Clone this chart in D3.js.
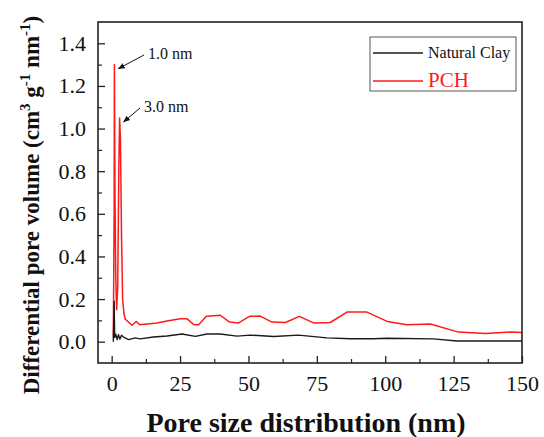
<!DOCTYPE html>
<html>
<head>
<meta charset="utf-8">
<script src="https://cdn.jsdelivr.net/npm/d3@7/dist/d3.min.js"></script>
<style>
  html, body { margin: 0; padding: 0; background: #fff; }
  svg { display: block; }
</style>
</head>
<body>
<div id="chart"></div>
<script>
// Pore size distribution of natural clay and the porous clay heterostructure (PCH)
const xTicks = [0, 25, 50, 75, 100, 125, 150];
const yTicks = [0.0, 0.2, 0.4, 0.6, 0.8, 1.0, 1.2, 1.4];

const clayX = [0.6, 0.9, 1.1, 1.5, 2.0, 2.5, 3.0, 3.6, 4.5, 6.2, 8.6, 10.4, 15.3, 20.2, 25.7, 30.6, 34.8, 39.7, 45.8, 50.7, 59.2, 68.3, 78.7, 87.2, 95.7, 100.7, 117.7, 126.2, 150];
const clayY = [0.0, 0.19, 0.02, 0.035, 0.01, 0.033, 0.012, 0.03, 0.02, 0.01, 0.018, 0.013, 0.022, 0.027, 0.036, 0.025, 0.036, 0.036, 0.026, 0.031, 0.024, 0.031, 0.018, 0.014, 0.014, 0.016, 0.013, 0.003, 0.003];

const pchX = [0.6, 0.9, 1.0, 1.2, 1.5, 1.8, 2.2, 2.6, 2.9, 3.2, 3.6, 4.0, 4.5, 5.0, 7.4, 9.0, 10.2, 16.5, 20.2, 25.1, 27.5, 30.0, 31.8, 34.6, 39.7, 43.1, 46.4, 50.4, 54.3, 58.6, 63.5, 68.6, 73.8, 79.9, 86.0, 93.3, 100.7, 108.0, 116.5, 126.8, 136.6, 145.7, 150];
const pchY = [0.02, 0.6, 1.30, 0.7, 0.3, 0.15, 0.25, 0.8, 1.05, 0.95, 0.5, 0.2, 0.13, 0.105, 0.077, 0.095, 0.08, 0.088, 0.097, 0.108, 0.108, 0.08, 0.08, 0.119, 0.124, 0.092, 0.088, 0.119, 0.12, 0.092, 0.09, 0.119, 0.088, 0.09, 0.139, 0.139, 0.095, 0.08, 0.083, 0.045, 0.038, 0.045, 0.043];

const seriesNames = ["Natural Clay", "PCH"];
const seriesColors = ["#1a1a1a", "#ff1a1a"];

const SERIF = "'Liberation Serif', 'Times New Roman', Times, serif";
const W = 544, H = 437;
const margin = { left: 98, right: 22, top: 22, bottom: 74 };

const svg = d3.select("#chart").append("svg")
  .attr("width", W).attr("height", H)
  .style("font-family", SERIF);

const x = d3.scaleLinear().domain([-5, 150]).range([margin.left, W - margin.right]);
const y = d3.scaleLinear().domain([-0.1, 1.5]).range([H - margin.bottom, margin.top]);

const line = d3.line().x(d => x(d[0])).y(d => y(d[1]));

const clay = clayX.map((v, i) => [v, clayY[i]]);
const pch = pchX.map((v, i) => [v, pchY[i]]);

// data lines
svg.append("path").datum(pch)
  .attr("fill", "none").attr("stroke", seriesColors[1]).attr("stroke-width", 1.5)
  .attr("stroke-linejoin", "round").attr("d", line);
svg.append("path").datum(clay)
  .attr("fill", "none").attr("stroke", seriesColors[0]).attr("stroke-width", 1.4)
  .attr("stroke-linejoin", "round").attr("d", line);

// axes with inward ticks
const xMinor = d3.range(12.5, 150, 25);
const yMinor = d3.range(0.1, 1.5, 0.2);

function styleTicks(g) {
  g.select(".domain").remove();
  g.selectAll(".tick line").attr("stroke", "#222").attr("stroke-width", 1.3);
  g.selectAll(".tick text")
    .style("font-family", SERIF).style("font-size", "22px").attr("fill", "#111");
}

svg.append("g").attr("transform", `translate(0,${H - margin.bottom})`)
  .call(d3.axisBottom(x).tickValues(xTicks).tickSize(-7).tickPadding(12).tickFormat(d3.format("d")))
  .call(styleTicks);
svg.append("g").attr("transform", `translate(0,${H - margin.bottom})`)
  .call(d3.axisBottom(x).tickValues(xMinor).tickSize(-4).tickFormat(""))
  .call(g => g.select(".domain").remove())
  .selectAll("line").attr("stroke", "#222").attr("stroke-width", 1.2);

svg.append("g").attr("transform", `translate(${margin.left},0)`)
  .call(d3.axisLeft(y).tickValues(yTicks).tickSize(-7).tickPadding(12).tickFormat(d3.format(".1f")))
  .call(styleTicks);
svg.append("g").attr("transform", `translate(${margin.left},0)`)
  .call(d3.axisLeft(y).tickValues(yMinor).tickSize(-4).tickFormat(""))
  .call(g => g.select(".domain").remove())
  .selectAll("line").attr("stroke", "#222").attr("stroke-width", 1.2);

// plot frame
svg.append("rect")
  .attr("x", margin.left).attr("y", margin.top)
  .attr("width", W - margin.left - margin.right)
  .attr("height", H - margin.top - margin.bottom)
  .attr("fill", "none").attr("stroke", "#222").attr("stroke-width", 1.6);

// axis titles
svg.append("text")
  .attr("x", 306).attr("y", 432)
  .attr("text-anchor", "middle").style("font-size", "28px").style("font-weight", "bold")
  .attr("fill", "#111").text("Pore size distribution (nm)");

const yl = svg.append("text")
  .attr("transform", "translate(39,205) rotate(-90)")
  .attr("text-anchor", "middle").style("font-size", "23px").style("font-weight", "bold")
  .attr("fill", "#111");
yl.append("tspan").text("Differential pore volume (cm");
yl.append("tspan").attr("dy", -9).style("font-size", "15px").text("3");
yl.append("tspan").attr("dy", 9).text(" g");
yl.append("tspan").attr("dy", -9).style("font-size", "15px").text("-1");
yl.append("tspan").attr("dy", 9).text(" nm");
yl.append("tspan").attr("dy", -9).style("font-size", "15px").text("-1");
yl.append("tspan").attr("dy", 9).text(")");

// peak annotations
svg.append("defs").append("marker").attr("id", "arrowhead")
  .attr("viewBox", "0 0 10 10").attr("refX", 9).attr("refY", 5)
  .attr("markerWidth", 7).attr("markerHeight", 7).attr("orient", "auto")
  .append("path").attr("d", "M0,1 L10,5 L0,9 Z").attr("fill", "#111");

const peaks = [
  { label: "1.0 nm", px: 1.0, py: 1.30, tx: 148, ty: 59 },
  { label: "3.0 nm", px: 2.9, py: 1.05, tx: 144, ty: 112 }
];
peaks.forEach(p => {
  svg.append("line")
    .attr("x1", p.tx - 4).attr("y1", p.ty - 4)
    .attr("x2", x(p.px) + 4).attr("y2", y(p.py) + 4)
    .attr("stroke", "#111").attr("stroke-width", 1)
    .attr("marker-end", "url(#arrowhead)");
  svg.append("text").attr("x", p.tx).attr("y", p.ty)
    .style("font-size", "16px").attr("fill", "#111").text(p.label);
});

// legend
const lg = svg.append("g");
lg.append("rect").attr("x", 370).attr("y", 37).attr("width", 146).attr("height", 54)
  .attr("fill", "#fff").attr("stroke", "#555").attr("stroke-width", 1);
lg.append("line").attr("x1", 373).attr("x2", 423).attr("y1", 53).attr("y2", 53)
  .attr("stroke", seriesColors[0]).attr("stroke-width", 1.6);
lg.append("text").attr("x", 428).attr("y", 58).style("font-size", "16px")
  .attr("fill", "#111").text(seriesNames[0]);
lg.append("line").attr("x1", 373).attr("x2", 423).attr("y1", 81).attr("y2", 81)
  .attr("stroke", seriesColors[1]).attr("stroke-width", 1.4);
lg.append("text").attr("x", 428).attr("y", 87).style("font-size", "21px")
  .attr("fill", seriesColors[1]).text(seriesNames[1]);
</script>
</body>
</html>
